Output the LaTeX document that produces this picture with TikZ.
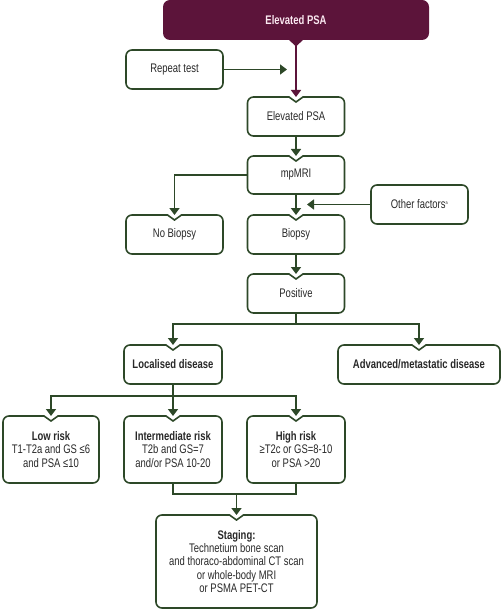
\documentclass[tikz,border=0pt]{standalone}
\usepackage{fontspec}
\setmainfont{Liberation Sans}[FakeStretch=0.76]
\usetikzlibrary{arrows.meta,calc}
\definecolor{grn}{RGB}{45,72,40}
\definecolor{mar}{RGB}{92,20,58}
\definecolor{txt}{RGB}{40,40,40}
\definecolor{toptxt}{RGB}{250,232,240}
\newcommand\boxfont{\fontsize{12.5}{13.4}\selectfont}
\tikzset{
  boxtext/.style={draw=none, outer sep=0pt, inner sep=2bp, align=center, text=txt,
    font=\boxfont},
  plainbox/.style={boxtext, draw=grn, line width=1.6bp, rounded corners=6bp},
  boxline/.style={draw=grn, line width=1.6bp},
  conn/.style={draw=grn, line width=1.6bp},
  arr/.style={conn, -{Triangle[width=10bp,length=7bp]}},
  marr/.style={draw=mar, line width=1.6bp, -{Triangle[width=10bp,length=7bp]}},
}
\newcommand\notchbox[1]{%
  \draw[boxline, rounded corners=6bp, line cap=round] ($(#1.north)+(7,0)$) -- (#1.north east) -- (#1.south east) -- (#1.south west) -- (#1.north west) -- ($(#1.north)+(-7,0)$);
  \draw[boxline, line cap=round, line join=miter] ($(#1.north)+(-7,0)$) -- ($(#1.north)+(0,5)$) -- ($(#1.north)+(7,0)$);}
\begin{document}
\begin{tikzpicture}[x=1bp,y=-1bp]
\useasboundingbox (0,0) rectangle (502,610);
\clip (0,0) rectangle (502,610);
% top box
\node[boxtext, fill=mar, rounded corners=7bp, minimum width=266bp, minimum height=40bp, text=toptxt, font=\boxfont\bfseries] (top) at (296,20) {Elevated PSA};
\fill[mar] (288,39) -- (296,46.5) -- (304,39) -- cycle;
% boxes
\node[plainbox, minimum width=97bp, minimum height=39bp] (repeat) at (174.5,69.5) {Repeat test};
\node[boxtext, minimum width=97bp, minimum height=39bp] (epsa) at (296,116.5) {Elevated PSA};
\node[boxtext, minimum width=97bp, minimum height=38bp] (mri) at (296,175) {mpMRI};
\node[boxtext, minimum width=97bp, minimum height=39bp] (nobiopsy) at (174.5,234.5) {No Biopsy};
\node[boxtext, minimum width=97bp, minimum height=39bp] (biopsy) at (296,234.5) {Biopsy};
\node[plainbox, minimum width=97bp, minimum height=39bp] (other) at (419.5,204.5) {Other factors\textsuperscript{\tiny a}};
\node[boxtext, minimum width=97bp, minimum height=39bp] (positive) at (296,293.5) {Positive};
\node[boxtext, minimum width=98bp, minimum height=39bp, font=\boxfont\bfseries] (local) at (173,364.5) {Localised disease};
\node[boxtext, minimum width=162bp, minimum height=39bp, font=\boxfont\bfseries] (adv) at (419,364.5) {Advanced/metastatic disease};
\node[boxtext, minimum width=96bp, minimum height=67bp] (low) at (51,449.5) {\textbf{Low risk}\\T1-T2a and GS ≤6\\and PSA ≤10};
\node[boxtext, minimum width=98bp, minimum height=67bp] (inter) at (173,449.5) {\textbf{Intermediate risk}\\T2b and GS=7\\and/or PSA 10-20};
\node[boxtext, minimum width=98bp, minimum height=67bp] (high) at (296,449.5) {\textbf{High risk}\\≥T2c or GS=8-10\\or PSA >20};
\node[boxtext, minimum width=161bp, minimum height=93bp] (staging) at (236.5,561.5) {\textbf{Staging:}\\Technetium bone scan\\and thoraco-abdominal CT scan\\or whole-body MRI\\or PSMA PET-CT};
\foreach \n in {epsa,mri,nobiopsy,biopsy,positive,local,adv,low,inter,high,staging} {\notchbox{\n}}
% coordinates
\coordinate (rtip) at (287,69.5);
\coordinate (otip) at (307,204.5);
\coordinate (split1) at (296,324);
\coordinate (split2) at (173,396);
\coordinate (join) at (236.5,494);
% connectors
\draw[marr] (top.south) -- (epsa.north);
\draw[arr] (repeat.east) -- (rtip);
\draw[arr] (epsa.south) -- (mri.north);
\draw[arr] (mri.west) -| (nobiopsy.north);
\draw[arr] (mri.south) -- (biopsy.north);
\draw[arr] (other.west) -- (otip);
\draw[arr] (biopsy.south) -- (positive.north);
\draw[conn] (positive.south) -- (split1);
\draw[arr] (split1) -| (local.north);
\draw[arr] (split1) -| (adv.north);
\draw[conn] (local.south) -- (split2);
\draw[arr] (split2) -| (low.north);
\draw[arr] (split2) -| (high.north);
\draw[arr] (split2) -- (inter.north);
\draw[conn] (inter.south) |- (join);
\draw[conn] (high.south) |- (join);
\draw[arr] (join) -- (staging.north);
\end{tikzpicture}
\end{document}
